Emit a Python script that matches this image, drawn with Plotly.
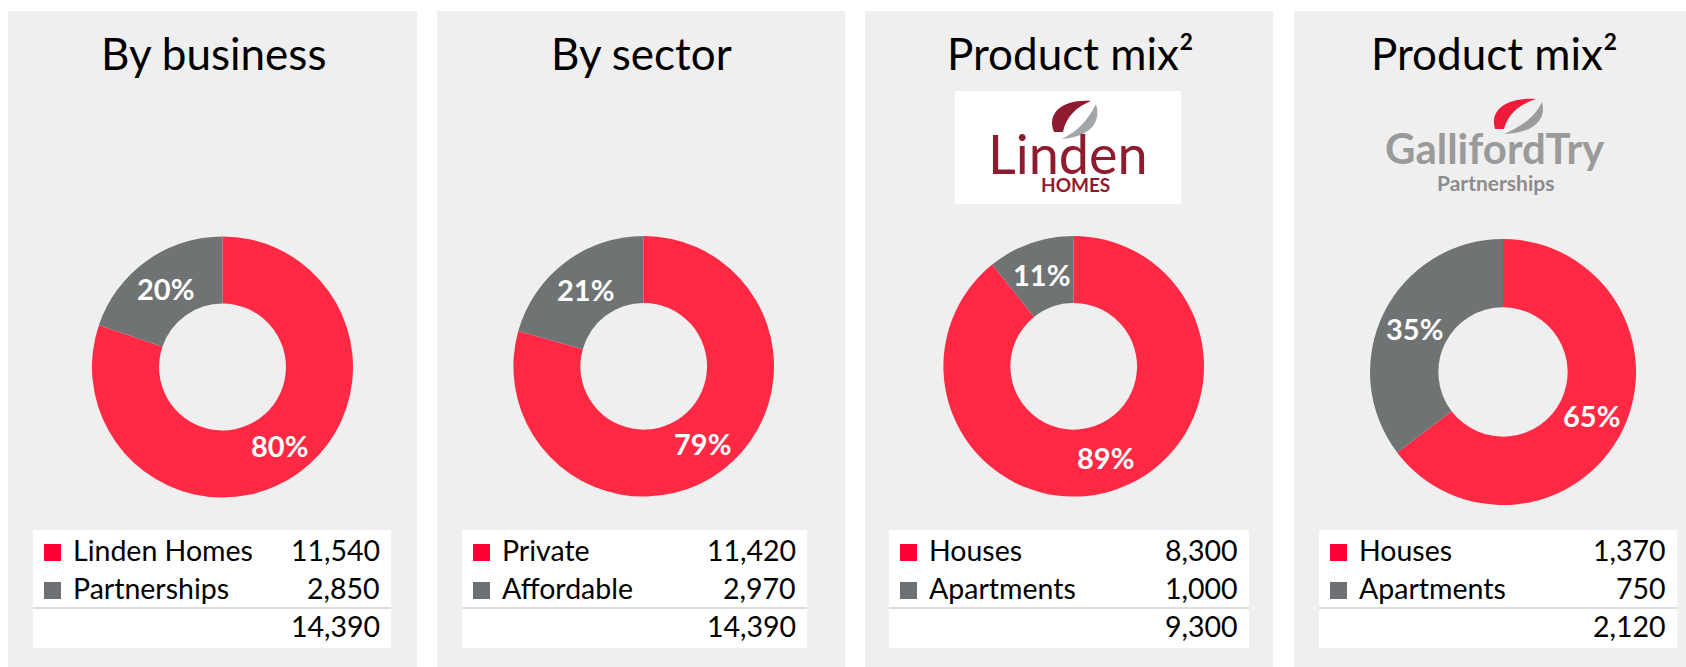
import math
import plotly.graph_objects as go

# Data
TITLES = ["By business", "By sector", "Product mix²", "Product mix²"]

BUSINESS_LABELS = ["Linden Homes", "Partnerships"]
BUSINESS_VALUES = [11540, 2850]

SECTOR_LABELS = ["Private", "Affordable"]
SECTOR_VALUES = [11420, 2970]

LINDEN_LABELS = ["Houses", "Apartments"]
LINDEN_VALUES = [8300, 1000]

PARTNER_LABELS = ["Houses", "Apartments"]
PARTNER_VALUES = [1370, 750]

PANELS_DATA = [
    (BUSINESS_LABELS, BUSINESS_VALUES),
    (SECTOR_LABELS, SECTOR_VALUES),
    (LINDEN_LABELS, LINDEN_VALUES),
    (PARTNER_LABELS, PARTNER_VALUES),
]

# Page geometry (pixels)
W, H = 1686, 667
PANEL_X = [(8, 417), (437, 845), (865, 1273), (1294, 1700)]
TITLE_CX = [213, 641, 1070, 1494]
DONUTS = [(222.5, 367, 130.5), (643.7, 366.3, 130.3), (1073.7, 366.3, 130.3), (1503, 372, 133)]
HOLE = 0.486
LEGEND_X = [(33, 391), (462, 807), (889, 1249), (1319, 1677)]
ROW_BASE = [562, 600, 638]

# Colours
PANEL_BG = "#EFEFEF"
RED = "#FF2944"
GRAY = "#707374"
KEY_RED = "#FF0036"
KEY_GRAY = "#6E7173"
FONT = "Lato, Carlito, sans-serif"


def fx(x):
    return x / W


def fy(y):
    return 1 - y / H


def path(points_str):
    # pixel path -> paper path
    out = []
    for tok in points_str.split():
        if "," in tok:
            x, y = tok.split(",")
            out.append(f"{fx(float(x)):.5f},{fy(float(y)):.5f}")
        else:
            out.append(tok)
    return " ".join(out)


fig = go.Figure()
shapes = []
annotations = []

for i, (labels, values) in enumerate(PANELS_DATA):
    x0, x1 = PANEL_X[i]
    shapes.append(dict(type="rect", xref="paper", yref="paper", x0=fx(x0), x1=fx(x1),
                       y0=fy(H), y1=fy(11), fillcolor=PANEL_BG, line_width=0, layer="below"))

    # Title
    annotations.append(dict(xref="paper", yref="paper", x=fx(TITLE_CX[i]), y=fy(71 + 9),
                            xanchor="center", yanchor="bottom", showarrow=False, borderpad=0,
                            text=TITLES[i], font=dict(family=FONT, size=44, color="#000000")))

    # Donut
    cx, cy, r = DONUTS[i]
    fig.add_trace(go.Pie(
        labels=labels, values=values, hole=HOLE, sort=False, direction="clockwise",
        marker=dict(colors=[RED, GRAY], line=dict(width=0)),
        textinfo="none",
        domain=dict(x=[fx(cx - r), fx(cx + r)], y=[fy(cy + r), fy(cy - r)]),
        showlegend=False, hoverinfo="label+value+percent",
    ))

    # percentage labels at the middle of each slice's ring
    total = sum(values)
    rm = r * (1 + HOLE) / 2
    cum = 0
    for v in values:
        ang = math.radians(90 - 360 * (cum + v / 2) / total)
        cum += v
        annotations.append(dict(xref="paper", yref="paper",
                                x=fx(cx + rm * math.cos(ang)), y=fy(cy - rm * math.sin(ang)),
                                xanchor="center", yanchor="middle", showarrow=False, borderpad=0,
                                text=f"<b>{round(100 * v / total)}%</b>",
                                font=dict(family=FONT, size=29, color="white")))

    # Legend table
    lx0, lx1 = LEGEND_X[i]
    shapes.append(dict(type="rect", xref="paper", yref="paper", x0=fx(lx0), x1=fx(lx1),
                       y0=fy(648), y1=fy(530), fillcolor="white", line_width=0, layer="below"))
    shapes.append(dict(type="line", xref="paper", yref="paper", x0=fx(lx0), x1=fx(lx1),
                       y0=fy(608), y1=fy(608), line=dict(color="#BDBDBD", width=1.2)))
    for j, (lab, val) in enumerate(zip(labels, values)):
        base = ROW_BASE[j]
        shapes.append(dict(type="rect", xref="paper", yref="paper",
                           x0=fx(lx0 + 11), x1=fx(lx0 + 28), y0=fy(base - 1), y1=fy(base - 18),
                           fillcolor=[KEY_RED, KEY_GRAY][j], line_width=0))
        annotations.append(dict(xref="paper", yref="paper", x=fx(lx0 + 39), y=fy(base + 6),
                                xanchor="left", yanchor="bottom", showarrow=False, borderpad=0,
                                text=lab, font=dict(family=FONT, size=28.5, color="#000000")))
        annotations.append(dict(xref="paper", yref="paper", x=fx(lx1 - 10), y=fy(base + 6),
                                xanchor="right", yanchor="bottom", showarrow=False, borderpad=0,
                                text=f"{val:,}", font=dict(family=FONT, size=28.5, color="#000000")))
    annotations.append(dict(xref="paper", yref="paper", x=fx(lx1 - 10), y=fy(ROW_BASE[2] + 6),
                            xanchor="right", yanchor="bottom", showarrow=False, borderpad=0,
                            text=f"{sum(values):,}", font=dict(family=FONT, size=28.5, color="#000000")))

# Linden Homes logo
shapes.append(dict(type="rect", xref="paper", yref="paper", x0=fx(955), x1=fx(1181),
                   y0=fy(204), y1=fy(91), fillcolor="white", line_width=0, layer="below"))
shapes.append(dict(type="path", xref="paper", yref="paper", line_width=0, fillcolor="#8E1B2E",
                   path=path("M 1054,132 C 1046,112 1064,99 1091,101 C 1076,107 1066,117 1063,132 Z")))
shapes.append(dict(type="path", xref="paper", yref="paper", line_width=0, fillcolor="#A3A6A8",
                   path=path("M 1096,104 C 1102,124 1088,137 1062,139 C 1078,131 1088,120 1096,104 Z")))
annotations.append(dict(xref="paper", yref="paper", x=fx(1068), y=fy(176 + 11), xanchor="center",
                        yanchor="bottom", showarrow=False, borderpad=0, text="Linden",
                        font=dict(family=FONT, size=54, color="#8E1B2E")))
annotations.append(dict(xref="paper", yref="paper", x=fx(1075), y=fy(193 + 4), xanchor="center",
                        yanchor="bottom", showarrow=False, borderpad=0, text="<b>HOMES</b>",
                        font=dict(family=FONT, size=19, color="#8E1B2E")))

# Galliford Try Partnerships logo
shapes.append(dict(type="path", xref="paper", yref="paper", line_width=0, fillcolor="#EE1C3A",
                   path=path("M 1495,129 C 1489,109 1508,97 1536,99 C 1520,104 1508,114 1504,129 Z")))
shapes.append(dict(type="path", xref="paper", yref="paper", line_width=0, fillcolor="#9C9C9C",
                   path=path("M 1542,102 C 1547,121 1532,133 1504,134 C 1521,127 1535,117 1542,102 Z")))
annotations.append(dict(xref="paper", yref="paper", x=fx(1495), y=fy(165 + 9), xanchor="center",
                        yanchor="bottom", showarrow=False, borderpad=0, text="<b>GallifordTry</b>",
                        font=dict(family=FONT, size=42, color="#9A9A9A")))
annotations.append(dict(xref="paper", yref="paper", x=fx(1495), y=fy(192 + 4), xanchor="center",
                        yanchor="bottom", showarrow=False, borderpad=0, text="<b>Partnerships</b>",
                        font=dict(family=FONT, size=21, color="#8C8C8C")))

fig.update_layout(
    width=W, height=H,
    margin=dict(l=0, r=0, t=0, b=0),
    paper_bgcolor="white", plot_bgcolor="white",
    font=dict(family=FONT),
    shapes=shapes, annotations=annotations,
)

fig.write_html("out.html", config={"displayModeBar": False},
               post_script="document.body.style.margin='0';")
